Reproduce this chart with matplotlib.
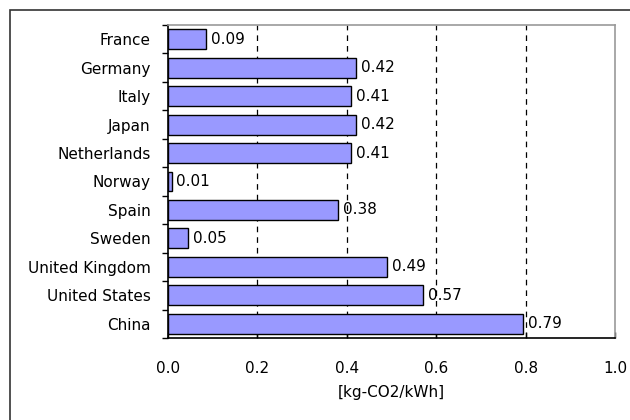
import numpy as np
import matplotlib.pyplot as plt
from matplotlib.patches import Rectangle

plt.rcParams['font.family'] = ['DejaVu Sans']

countries = ["France", "Germany", "Italy", "Japan", "Netherlands", "Norway",
             "Spain", "Sweden", "United Kingdom", "United States", "China"]
values = [0.085, 0.42, 0.41, 0.42, 0.41, 0.008, 0.38, 0.045, 0.49, 0.57, 0.795]
labels = ["0.09", "0.42", "0.41", "0.42", "0.41", "0.01",
          "0.38", "0.05", "0.49", "0.57", "0.79"]

fig = plt.figure(figsize=(6.3, 4.2), dpi=100)
ax = fig.add_axes([168/630, 1-338/420, (615-168)/630, (338-25)/420])

y = np.arange(len(countries))
ax.barh(y, values, height=0.7, color='#9999FF', edgecolor='black',
        linewidth=1.0, zorder=3)

# value labels to the right of each bar
for yi, v, lab in zip(y, values, labels):
    ax.annotate(lab, (v, yi), xytext=(3.5, 0), textcoords='offset points',
                va='center', ha='left', fontsize=11, zorder=4)

ax.set_xlim(0, 1.0)
ax.set_ylim(len(countries) - 0.5, -0.5)
ax.set_xticks([0, 0.2, 0.4, 0.6, 0.8, 1.0])
ax.set_xticklabels(["0.0", "0.2", "0.4", "0.6", "0.8", "1.0"])
ax.set_yticks(y)
ax.set_yticklabels(countries)
ax.set_yticks(np.arange(len(countries) + 1) - 0.5, minor=True)

ax.tick_params(axis='y', which='major', length=0, pad=12.5, labelsize=11)
ax.tick_params(axis='y', which='minor', length=4.5, direction='out', width=1)
ax.tick_params(axis='x', which='major', length=4.5, direction='in', width=1,
               pad=16.5, labelsize=11)

for xg in [0.2, 0.4, 0.6, 0.8]:
    ax.axvline(xg, color='black', linestyle=(0, (4.5, 4)), linewidth=0.9, zorder=1)

ax.spines['top'].set_color('#999999')
ax.spines['right'].set_color('#999999')
ax.spines['left'].set_color('black')
ax.spines['bottom'].set_color('black')
for s in ax.spines.values():
    s.set_linewidth(1.2)

ax.set_xlabel("[kg-CO2/kWh]", fontsize=11, labelpad=6.5)

# outer chart-area border (right and bottom edges fall outside the image)
fig.patches.append(Rectangle((10/630, -10/420), 640/630, 420/420,
                             transform=fig.transFigure, fill=False,
                             edgecolor='#333333', linewidth=1.2))

fig.savefig("out.png", dpi=100)
